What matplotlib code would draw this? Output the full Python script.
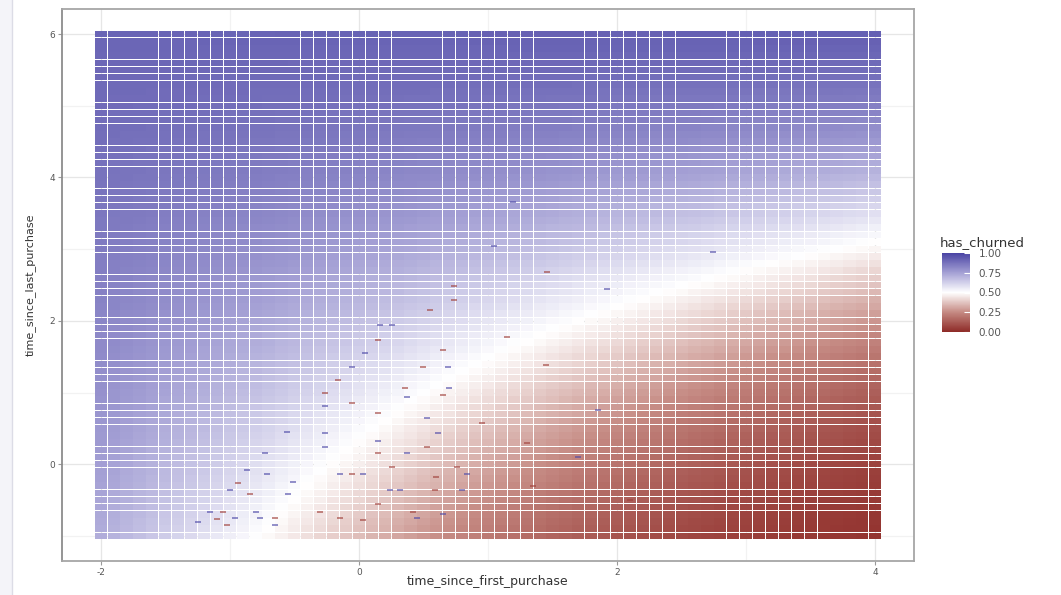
import numpy as np
import matplotlib
matplotlib.use("Agg")
import matplotlib.pyplot as plt
from matplotlib.colors import LinearSegmentedColormap, Normalize
from matplotlib.cm import ScalarMappable

# explanatory grid (standardised times) used for the prediction tiles
time_since_first_purchase = np.round(np.arange(-2.0, 4.0001, 0.1), 1)
time_since_last_purchase = np.round(np.arange(-1.0, 6.0001, 0.1), 1)

# logistic regression: has_churned ~ first * last
coef_intercept = -0.151
coef_first = -0.638
coef_last = 0.423
coef_interaction = 0.112

# observed customers: (first, last, has_churned)
obs_first = [0.55, 0.26, 0.15, 0.05, -0.05, -0.16, -0.26, -0.26, -0.26, -0.26,
             -0.05, 0.65, 0.65, 0.37, 0.36, 0.50, 0.69, 0.70, 0.53, 0.15,
             0.15, 0.15, 0.61, 0.53, 0.37, 0.26, 0.03, -0.15, -0.05, -0.30,
             -0.15, 0.03, 0.15, 0.24, 0.32, 0.42, 0.45, 0.59, 0.65, 0.80,
             0.84, 0.95, 0.76, 0.60, -0.56, -0.73, -0.87, -0.94, -1.00, -1.15,
             -1.25, -1.05, -1.10, -0.84, -0.80, -0.77, -0.65, -0.65, -0.51, -0.55,
             -0.71, -0.96, -1.02, 0.74, 0.74, 1.46, 1.05, 1.19, 2.74, 1.92,
             1.45, 1.15, 0.16, 1.30, 1.70, 2.10, 1.85, 1.35]
obs_last = [2.15, 1.94, 1.73, 1.55, 1.35, 1.17, 1.00, 0.81, 0.43, 0.24,
            0.85, 1.59, 0.96, 0.94, 1.06, 1.35, 1.35, 1.06, 0.64, 0.71,
            0.33, 0.15, 0.43, 0.24, 0.15, -0.04, -0.13, -0.13, -0.13, -0.67,
            -0.75, -0.78, -0.55, -0.36, -0.36, -0.67, -0.75, -0.36, -0.69, -0.36,
            -0.13, 0.57, -0.04, -0.18, 0.45, 0.15, -0.08, -0.26, -0.36, -0.66,
            -0.81, -0.66, -0.77, -0.41, -0.66, -0.75, -0.75, -0.85, -0.25, -0.41,
            -0.13, -0.75, -0.85, 2.48, 2.29, 2.68, 3.04, 3.66, 2.96, 2.44,
            1.38, 1.77, 1.94, 0.30, 0.10, -0.50, 0.75, -0.30]
obs_churned = [0, 1, 0, 1, 1, 0, 0, 1, 1, 1,
               0, 0, 0, 1, 0, 0, 1, 1, 1, 0,
               1, 0, 1, 0, 1, 0, 1, 1, 0, 0,
               0, 0, 0, 1, 1, 0, 1, 0, 1, 1,
               1, 0, 0, 0, 1, 1, 1, 0, 1, 1,
               1, 0, 0, 0, 1, 1, 0, 1, 1, 1,
               1, 1, 0, 0, 0, 0, 1, 1, 1, 1,
               0, 0, 1, 0, 1, 0, 1, 0]

legend_ticks = [0.0, 0.25, 0.5, 0.75, 1.0]
x_ticks = [-2, 0, 2, 4]
y_ticks = [0, 2, 4, 6]

# diverging red - white - blue fill scale
churn_cmap = LinearSegmentedColormap.from_list(
    "churn",
    [(0.0, "#8e2b27"), (0.25, "#c58a83"), (0.5, "#ffffff"),
     (0.75, "#a5a1d5"), (1.0, "#4a44a4")])
norm = Normalize(0, 1)

W, H = 1061, 595
fig = plt.figure(figsize=(W / 100, H / 100), dpi=100)
fig.patch.set_facecolor("white")

# faint strip at the left edge
fig.add_artist(plt.Rectangle((0, 0), 12 / W, 1, transform=fig.transFigure,
                             facecolor="#f4f4f9", edgecolor="none"))
fig.add_artist(plt.Line2D([12 / W, 12 / W], [0, 1], transform=fig.transFigure,
                          color="#dcdce6", lw=1.0))

ax = fig.add_axes([62 / W, 34 / H, 852 / W, 552 / H])
ax.set_xlim(-2.30, 4.30)
ax.set_ylim(-1.35, 6.35)

# grid lines (major + minor) underneath the tiles
for v in np.arange(-2, 5, 1):
    ax.axvline(v, color="#e6e6e6" if v % 2 == 0 else "#f2f2f2", lw=0.9, zorder=0)
for v in np.arange(-1, 7, 1):
    ax.axhline(v, color="#e6e6e6" if v % 2 == 0 else "#f2f2f2", lw=0.9, zorder=0)

# prediction tiles; the hairline gaps between them leave white seams
gx, gy = np.meshgrid(time_since_first_purchase, time_since_last_purchase)
logit = coef_intercept + coef_first * gx + coef_last * gy + coef_interaction * gx * gy
prob = 1 / (1 + np.exp(-logit))
tile_w, tile_h = 0.0946, 0.0909
ax.bar(gx.ravel(), tile_h, width=tile_w, bottom=gy.ravel() - tile_h / 2,
       color=churn_cmap(norm(prob.ravel())), antialiased=False,
       linewidth=0, zorder=1)

# observed points
obs_first = np.array(obs_first)
obs_last = np.array(obs_last)
obs_churned = np.array(obs_churned)
dash = [(-1.6, -0.5), (1.6, -0.5), (1.6, 0.5), (-1.6, 0.5)]
for val, col in [(0, "#a0403a"), (1, "#4e4aa8")]:
    m = obs_churned == val
    ax.plot(obs_first[m], obs_last[m], linestyle="none", marker=dash,
            markersize=4.5, color=col, alpha=0.6, markeredgewidth=0, zorder=2)

for side, sp in ax.spines.items():
    sp.set_color("#a6a6a6")
    sp.set_linewidth(1.3)
ax.spines["left"].set_color("#8c8c8c")

ax.set_xticks(x_ticks)
ax.set_yticks(y_ticks)
ax.set_xticklabels([str(t) for t in x_ticks])
ax.set_yticklabels([str(t) for t in y_ticks])
ax.tick_params(axis="both", length=3, width=0.8, color="#9a9a9a",
               labelsize=6.5, labelcolor="#555555", pad=2)

fig.text(488 / W, 1 - 582 / H, "time_since_first_purchase", ha="center",
         va="center", fontsize=9, color="#333333")
fig.text(30 / W, 1 - 285 / H, "time_since_last_purchase", ha="center",
         va="center", rotation=90, fontsize=8, color="#333333")

# colour bar legend
cax = fig.add_axes([942 / W, 1 - 332 / H, 28 / W, 79 / H])
sm = ScalarMappable(norm=norm, cmap=churn_cmap)
cb = fig.colorbar(sm, cax=cax, ticks=legend_ticks)
cb.outline.set_visible(False)
cax.set_yticklabels([f"{t:.2f}" for t in legend_ticks])
cax.tick_params(axis="y", direction="in", length=4, width=0.8, color="white",
                labelsize=7.5, labelcolor="#555555", pad=6)
fig.text(940 / W, 1 - 243 / H, "has_churned", ha="left", va="center",
         fontsize=9.5, color="#333333")

fig.savefig("out.png", dpi=100)
